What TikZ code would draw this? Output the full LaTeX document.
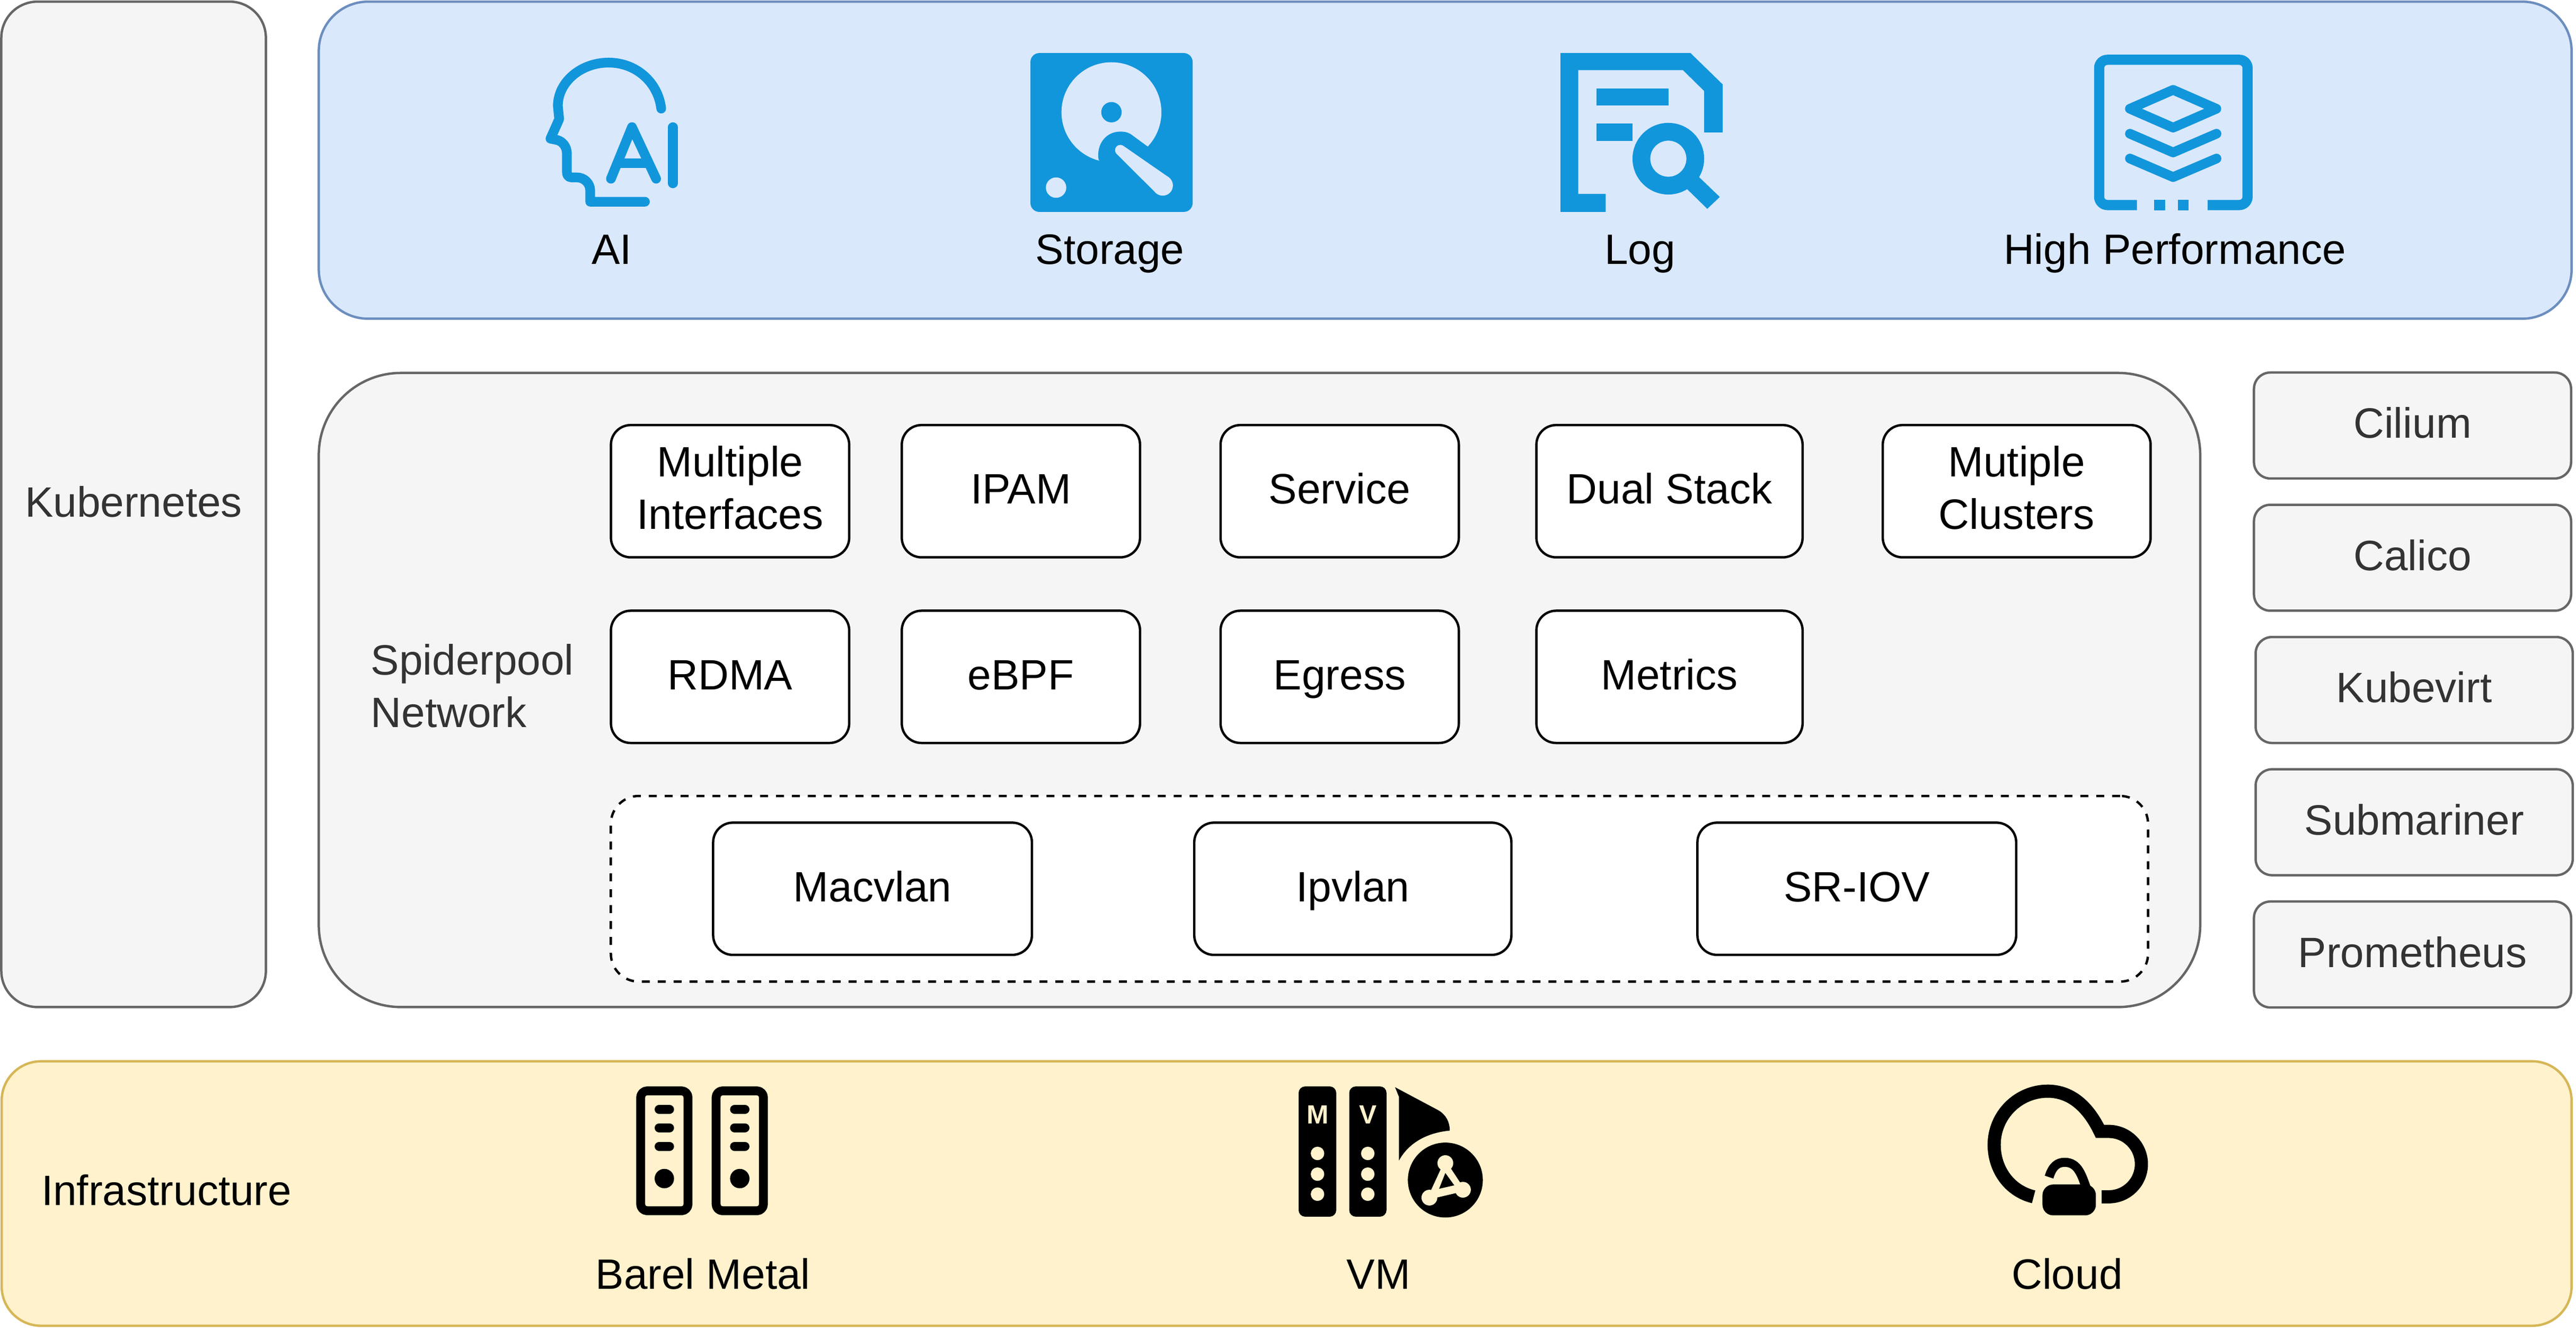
\documentclass[tikz,border=0pt]{standalone}
\usepackage{fontspec}
\setmainfont{Liberation Sans}
\usetikzlibrary{calc}
\definecolor{iconblue}{HTML}{1296DB}
\definecolor{bluefill}{HTML}{DAE8FC}
\definecolor{bluedraw}{HTML}{6C8EBF}
\definecolor{grayfill}{HTML}{F5F5F5}
\definecolor{graydraw}{HTML}{666666}
\definecolor{graytext}{HTML}{333333}
\definecolor{yellowfill}{HTML}{FFF2CC}
\definecolor{yellowdraw}{HTML}{D6B656}
\newcommand{\lnstrut}{\rule[-8.3pt]{0pt}{32pt}}
\tikzset{
	lbl/.style={inner sep=0pt, align=center, font=\fontsize{25.85}{32}\selectfont, execute at begin node=\lnstrut, execute at end node=\lnstrut},
	panel/.style={lbl, draw, line width=1.45pt, rounded corners=#1},
	graybox/.style={panel=#1, draw=graydraw, fill=grayfill, text=graytext},
	sidebox/.style={graybox=10pt, minimum width=193pt, minimum height=64.5pt},
	whitebox/.style={panel=12pt, draw=black, fill=white, minimum height=80.5pt},
	blueline/.style={draw=iconblue, line width=5.9pt, line cap=round, line join=round},
	blackline/.style={draw=black, line width=5.4pt, line join=round},
	vmletter/.style={inner sep=0pt, text=yellowfill, font=\fontsize{16}{16}\selectfont\bfseries},
}
\begin{document}
\begin{tikzpicture}[x=1pt,y=-1pt]
\useasboundingbox (0,0) rectangle (1567.7,808.1);
% outer panels
\node[graybox=22pt, minimum width=161pt, minimum height=612pt] (kube) at (81.3,307) {Kubernetes};
\node[panel=30pt, draw=bluedraw, fill=bluefill, minimum width=1371pt, minimum height=193pt] (apps) at (879.5,97.5) {};
\node[graybox=50pt, minimum width=1145pt, minimum height=386pt] (spider) at (766.5,420) {};
\node[panel=24pt, draw=yellowdraw, fill=yellowfill, minimum width=1564pt, minimum height=161pt] (infra) at (783,726.5) {};
\node[lbl, text=graytext, align=left, anchor=west] (spidertxt) at (225.5,421.5) {Spiderpool\\Network};
\node[lbl, anchor=west] (infratxt) at (25,726) {Infrastructure};
% side boxes
\node[sidebox] (cilium) at (1468.2,259) {Cilium};
\node[sidebox] (calico) at (1468.2,339.5) {Calico};
\node[sidebox] (kubevirt) at (1469.2,420) {Kubevirt};
\node[sidebox] (submariner) at (1469.2,500.5) {Submariner};
\node[sidebox] (prometheus) at (1468.2,581) {Prometheus};
% feature boxes
\node[whitebox, minimum width=145pt] (multi) at (444.3,299) {};
\node[lbl] (multitxt) at (444.3,300.8) {Multiple\\Interfaces};
\node[whitebox, minimum width=145pt] (ipam) at (621.3,299) {IPAM};
\node[whitebox, minimum width=145pt] (service) at (815.3,299) {Service};
\node[whitebox, minimum width=162pt] (dual) at (1016,299) {Dual Stack};
\node[whitebox, minimum width=163pt] (clusters) at (1227.3,299) {};
\node[lbl] (clusterstxt) at (1227.3,300.8) {Mutiple\\Clusters};
\node[whitebox, minimum width=145pt] (rdma) at (444.3,412) {RDMA};
\node[whitebox, minimum width=145pt] (ebpf) at (621.3,412) {eBPF};
\node[whitebox, minimum width=145pt] (egress) at (815.3,412) {Egress};
\node[whitebox, minimum width=162pt] (metrics) at (1016,412) {Metrics};
\node[panel=17pt, draw=black, fill=white, dash pattern=on 4.84pt off 4.84pt, minimum width=935.5pt, minimum height=113pt] (cni) at (839.5,541) {};
\node[whitebox, minimum width=194pt] (macvlan) at (531,541) {Macvlan};
\node[whitebox, minimum width=193pt] (ipvlan) at (823.3,541) {Ipvlan};
\node[whitebox, minimum width=194pt] (sriov) at (1130,541) {SR-IOV};
% labels below the icons
\node[lbl] (ailbl) at (372.3,153) {AI};
\node[lbl] (storagelbl) at (675.5,153) {Storage};
\node[lbl] (loglbl) at (998,153) {Log};
\node[lbl] (perflbl) at (1323.5,153) {High Performance};
\node[lbl] (metallbl) at (427.8,777) {Barel Metal};
\node[lbl] (vmlbl) at (839,777) {VM};
\node[lbl] (cloudlbl) at (1258,777) {Cloud};
% AI icon
\draw[blueline] (402.4,66.1) .. controls (400.5,50) and (387,38.1) .. (370.4,38.1) .. controls (353.5,38.1) and (339.5,50) .. (339.5,64.5) -- (340.3,72.5) -- (335,84.4) -- (338,85) .. controls (342,85.5) and (345,89) .. (345,93.5) -- (345,104.8) .. controls (345,106.8) and (346,108) .. (348,108) -- (351.1,108) .. controls (355.5,108) and (359.2,111.5) .. (359.2,116.1) -- (359.2,122.8) -- (392.5,122.8);
\draw[blueline] (371.8,108.8) -- (384.6,77.4) -- (399.3,108.8);
\draw[blueline] (376.9,99.4) -- (393.6,99.4);
\draw[blueline] (409.5,77.4) -- (409.5,111.6);
% storage icon
\fill[iconblue, rounded corners=5.4pt] (627.1,32.3) rectangle (725.8,129);
\fill[bluefill] (676.4,68.3) circle (30.4pt);
\fill[iconblue] (676.4,68.3) circle (6.2pt);
\fill[iconblue] (668.6,97.3) .. controls (667,88) and (673,80.1) .. (681.8,80.1) .. controls (684,80.1) and (686.5,80.5) .. (688.2,81.7) -- (698.4,89.2) -- (712,100) -- (676,105) -- cycle;
\fill[bluefill] (681.8,91.4) circle (3.2pt);
\fill[bluefill] (707.6,112.9) circle (6.2pt);
\fill[bluefill] (679.75,93.86) -- (703.63,117.66) -- (711.57,108.14) -- (683.85,88.94) -- cycle;
\fill[bluefill] (642.7,114.2) circle (6.2pt);
% log icon
\fill[iconblue] (949.7,32.3) -- (1028.8,32.3) -- (1048.4,51.4) -- (1048.4,80.6) -- (1037.1,80.6) -- (1037.1,55.4) -- (1024.2,42.7) -- (960.5,42.7) -- (960.5,118) -- (977.2,118) -- (977.2,129) -- (949.7,129) -- cycle;
\fill[iconblue] (971.5,53.8) rectangle (1015.4,64.3);
\fill[iconblue] (971.5,75) rectangle (993.6,85.8);
\draw[iconblue, line width=10.8pt] (1015.3,96.6) circle (16.4pt);
\fill[iconblue] (1033.9,107.7) -- (1046.6,119.9) -- (1039,127.1) -- (1026.4,114.8) -- cycle;
% performance icon
\draw[iconblue, line width=6.2pt, rounded corners=5pt] (1300.5,124.8) -- (1277.5,124.8) -- (1277.5,36.4) -- (1367.8,36.4) -- (1367.8,124.8) -- (1343.5,124.8);
\fill[iconblue] (1311,121.7) rectangle (1317.7,127.9);
\fill[iconblue] (1325.4,121.7) rectangle (1332,127.9);
\draw[blueline] (1322.5,54.7) -- (1348.8,66.2) -- (1322.5,77.7) -- (1296.2,66.2) -- cycle;
\draw[blueline] (1296.2,81.4) -- (1322.5,92.8) -- (1348.9,81.4);
\draw[blueline] (1296.2,96.5) -- (1322.5,107.8) -- (1348.9,96.5);
% bare metal icon
\foreach \x in {404.3,450.2}{
	\draw[blackline, rounded corners=4pt] ($(\x,664)+(-14.4,0)$) rectangle ($(\x,737)+(14.4,0)$);
	\foreach \y in {675.3,686.5,697.8}{
		\draw[black, line width=5.6pt, line cap=round] ($(\x,\y)+(-3.1,0)$) -- ($(\x,\y)+(3.1,0)$);
	}
	\fill (\x,717.4) circle (5.9pt);
}
% vm icon
\fill[rounded corners=4pt] (790.3,661.3) rectangle (813.2,740.6);
\fill[rounded corners=4pt] (821.1,661.3) rectangle (843.8,740.6);
\node[vmletter] (mtxt) at (801.8,678.5) {M};
\node[vmletter] (vtxt) at (832.4,678.5) {V};
\foreach \x in {801.8,832.4}{
	\foreach \y in {702.1,714.7,726.9}{
		\fill[yellowfill] (\x,\y) circle (4.1pt);
	}
}
\fill (849,661.8) -- (875.3,675.8) .. controls (880,678.5) and (882.3,683) .. (882.3,688.2) .. controls (868,689.5) and (857,696) .. (851.4,706.4) -- (851.4,667.7) -- cycle;
\fill (879.6,718.3) circle (22.8pt);
\fill[yellowfill] (879.6,708) circle (4.8pt);
\fill[yellowfill] (869.9,729) circle (4.8pt);
\fill[yellowfill] (890.3,724.2) circle (4.8pt);
\filldraw[draw=yellowfill, fill=yellowfill, line width=2pt, line join=round] (879.6,708) -- (890.3,724.2) -- (869.9,729) -- cycle;
\fill (879.6,714) -- (885,721.5) -- (875.8,723.6) -- cycle;
% cloud icon
\draw[black, line width=8pt] (1237.6,728.5) .. controls (1223,725) and (1213.6,712) .. (1213.6,696.8) .. controls (1213.6,678.8) and (1228.2,664.2) .. (1246.2,664.2) .. controls (1259,664.2) and (1270,672) .. (1278,688.7) -- (1283.3,688.7) .. controls (1294.3,688.7) and (1303.2,697.6) .. (1303.2,708.6) .. controls (1303.2,719.6) and (1294.3,728.5) .. (1283.3,728.5) -- (1279,728.5);
\fill[rounded corners=6.5pt] (1243,721) rectangle (1275.5,739.8);
\draw[black, line width=5.5pt] (1247,716.5) .. controls (1249,710) and (1252,707.5) .. (1256.5,707.5) .. controls (1265,707.5) and (1267,716) .. (1270,724);
\end{tikzpicture}
\end{document}
